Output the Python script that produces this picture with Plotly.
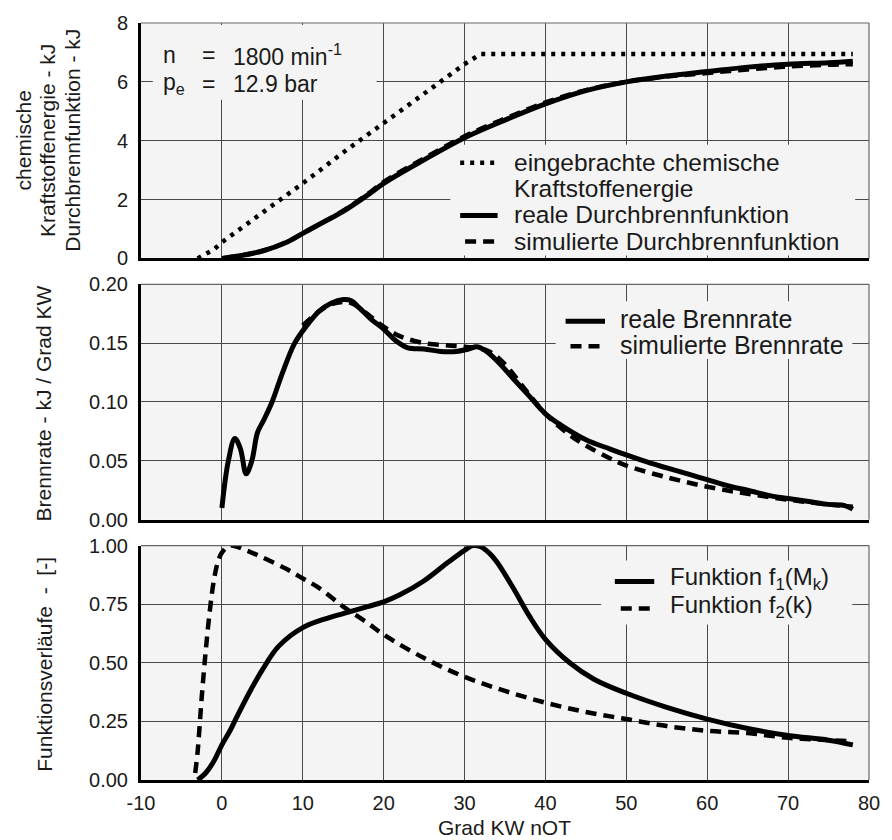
import plotly.graph_objects as go
from plotly.subplots import make_subplots

# ---------------- data ----------------
chem_x = [-3, -1, 0, 2, 5, 10, 15, 20, 25, 30, 32, 35, 45, 55, 65, 78]
chem_y = [0.0, 0.3, 0.55, 0.95, 1.55, 2.55, 3.6, 4.6, 5.6, 6.6, 6.95, 6.95, 6.95, 6.95, 6.95, 6.95]

burn_x = [0, 2, 5, 8, 10, 12, 15, 18, 20, 25, 30, 35, 40, 45, 50, 55, 60, 65, 70, 75, 78]
burn_real = [0.0, 0.08, 0.25, 0.55, 0.85, 1.15, 1.6, 2.15, 2.55, 3.35, 4.1, 4.7, 5.25, 5.7, 6.0, 6.2, 6.35, 6.5, 6.6, 6.65, 6.7]
burn_sim = [0.0, 0.08, 0.25, 0.55, 0.85, 1.15, 1.62, 2.18, 2.6, 3.4, 4.15, 4.75, 5.3, 5.72, 6.0, 6.18, 6.3, 6.42, 6.52, 6.58, 6.6]

rate_x = [0, 0.8, 1.6, 2.3, 3.0, 3.7, 4.4, 5.2, 6.2, 7.5, 9, 10.5, 12, 13.5, 15, 16, 17, 18.5, 20, 21.5, 23, 25, 27, 29, 30.5, 31.5, 32.5, 34,
          36, 38, 40, 42, 45, 48, 50, 53, 55, 58, 60, 63, 65, 68, 70, 73, 75, 77, 78]
rate_real = [0.01, 0.05, 0.069, 0.06, 0.039, 0.05, 0.074, 0.085, 0.1, 0.125, 0.15, 0.165, 0.177, 0.184, 0.187, 0.186, 0.18, 0.17, 0.162, 0.152, 0.146, 0.145, 0.143, 0.143, 0.145, 0.147, 0.144, 0.135,
             0.12, 0.105, 0.09, 0.08, 0.068, 0.06, 0.055, 0.048, 0.044, 0.038, 0.034, 0.028, 0.025, 0.02, 0.018, 0.015, 0.013, 0.012, 0.009]

sim_x = [10, 12, 13.5, 15, 16, 17, 18.5, 20, 22, 25, 28, 30, 33, 35, 37, 40, 43, 45, 48, 50, 55, 60, 65, 70, 75, 78]
rate_sim = [0.165, 0.177, 0.183, 0.185, 0.184, 0.18, 0.172, 0.164, 0.156, 0.15, 0.148, 0.147, 0.143, 0.132, 0.115, 0.09, 0.072, 0.063, 0.052, 0.046, 0.036, 0.028, 0.022, 0.017, 0.013, 0.011]

f1_x = [-3, -2, -1, 0, 1, 2, 3.5, 5, 7, 10, 13, 15, 18, 20, 22, 25, 28, 30, 31, 32, 33, 34, 36, 38, 40, 43, 46, 50, 55, 60, 65, 70, 75, 78]
f1_y = [0.0, 0.03, 0.08, 0.15, 0.21, 0.28, 0.38, 0.47, 0.57, 0.65, 0.69, 0.71, 0.74, 0.76, 0.79, 0.85, 0.93, 0.98, 1.0, 0.995, 0.97, 0.93, 0.82, 0.7, 0.6, 0.5, 0.43, 0.37, 0.31, 0.26, 0.22, 0.19, 0.17, 0.15]

f2_x = [-3.3, -3, -2.5, -2, -1.5, -1, -0.5, 0, 1, 3, 5, 8, 10, 12, 15, 18, 20, 25, 30, 35, 40, 45, 50, 55, 60, 65, 70, 75, 78]
f2_y = [0.03, 0.12, 0.35, 0.55, 0.72, 0.85, 0.93, 0.97, 1.0, 0.98, 0.95, 0.9, 0.86, 0.82, 0.74, 0.67, 0.62, 0.52, 0.44, 0.38, 0.33, 0.29, 0.26, 0.23, 0.21, 0.2, 0.18, 0.17, 0.165]

x_ticks = [-10, 0, 10, 20, 30, 40, 50, 60, 70, 80]
x_tick_labels = ["-10", "0", "10", "20", "30", "40", "50", "60", "70", "80"]
y1_ticks = [0, 2, 4, 6, 8]
y2_ticks = [0.0, 0.05, 0.10, 0.15, 0.20]
y3_ticks = [0.0, 0.25, 0.50, 0.75, 1.00]

# ---------------- styling ----------------
FONT = "Liberation Sans, Arial, Helvetica, sans-serif"
TXT = "#1a1a1a"
BG = "#f4f4f4"
GRID = "#4a4a4a"
DOT = "4px,6px"
DASH = "11px,7px"
SOLID_W = 5
DASH_W = 4.5

W, H = 892, 840
L, R, T, B = 141, 12, 21, 60
pw, ph = W - L - R, H - T - B
XR = [-10, 80]

def px(p):
    return (p - L) / pw

def py(p):
    return (H - B - p) / ph

# panel pixel extents (top, bottom)
panels = [(21, 257), (283, 519), (545, 780)]
yranges = [[0, 8], [0, 0.2], [0, 1.0]]

fig = make_subplots(rows=3, cols=1, vertical_spacing=0.0)

styles = {
    "dot": dict(color="black", width=DASH_W, dash=DOT),
    "solid": dict(color="black", width=SOLID_W),
    "dash": dict(color="black", width=DASH_W, dash=DASH),
}

fig.add_trace(go.Scatter(x=chem_x, y=chem_y, mode="lines", name="eingebrachte chemische Kraftstoffenergie",
                         line=styles["dot"], showlegend=False), row=1, col=1)
fig.add_trace(go.Scatter(x=burn_x, y=burn_real, mode="lines", name="reale Durchbrennfunktion",
                         line=dict(styles["solid"], shape="spline"), showlegend=False), row=1, col=1)
fig.add_trace(go.Scatter(x=burn_x, y=burn_sim, mode="lines", name="simulierte Durchbrennfunktion",
                         line=dict(styles["dash"], shape="spline"), showlegend=False), row=1, col=1)

fig.add_trace(go.Scatter(x=rate_x, y=rate_real, mode="lines", name="reale Brennrate",
                         line=dict(styles["solid"], shape="spline"), showlegend=False), row=2, col=1)
fig.add_trace(go.Scatter(x=sim_x, y=rate_sim, mode="lines", name="simulierte Brennrate",
                         line=dict(styles["dash"], shape="spline"), showlegend=False), row=2, col=1)

fig.add_trace(go.Scatter(x=f1_x, y=f1_y, mode="lines", name="Funktion f1(Mk)",
                         line=dict(styles["solid"], shape="spline"), showlegend=False), row=3, col=1)
fig.add_trace(go.Scatter(x=f2_x, y=f2_y, mode="lines", name="Funktion f2(k)",
                         line=dict(styles["dash"], shape="spline"), showlegend=False), row=3, col=1)

yticks = [y1_ticks, y2_ticks, y3_ticks]
yfmt = ["d", ".2f", ".2f"]

for i in range(3):
    xa = "xaxis" if i == 0 else f"xaxis{i+1}"
    ya = "yaxis" if i == 0 else f"yaxis{i+1}"
    top, bot = panels[i]
    fig.layout[ya].update(domain=[py(bot), py(top)], range=yranges[i], tickvals=yticks[i], tickformat=yfmt[i],
                          showgrid=True, gridcolor=GRID, gridwidth=1, zeroline=False,
                          showline=True, linecolor="black", linewidth=3,
                          ticks="outside", ticklen=6, tickcolor="rgba(0,0,0,0)",
                          tickfont=dict(family=FONT, size=20, color=TXT))
    fig.layout[xa].update(range=XR, tickvals=x_ticks, ticktext=x_tick_labels,
                          showgrid=True, gridcolor=GRID, gridwidth=1,
                          zeroline=False, showline=True, linecolor="black", linewidth=3,
                          ticks="outside", ticklen=3, tickcolor="rgba(0,0,0,0)",
                          showticklabels=(i == 2), tickfont=dict(family=FONT, size=20, color=TXT))

fig.update_layout(
    width=W, height=H, margin=dict(l=L, r=R, t=T, b=B),
    paper_bgcolor="white", plot_bgcolor=BG, showlegend=False,
    font=dict(family=FONT, color=TXT),
)

def ax(i):
    return ("x" if i == 0 else f"x{i+1}"), ("y" if i == 0 else f"y{i+1}")

def to_data(i, xp, yp):
    top, bot = panels[i]
    lo, hi = yranges[i]
    xd = XR[0] + (xp - L) / pw * (XR[1] - XR[0])
    yd = lo + (bot - yp) / (bot - top) * (hi - lo)
    return xd, yd

def box(i, x0p, x1p, y0p, y1p):
    """Background patch (hides gridlines, under traces) in subplot i, given pixel bounds."""
    xr, yr = ax(i)
    xa0, ya0 = to_data(i, x0p, y1p)
    xa1, ya1 = to_data(i, x1p, y0p)
    fig.add_shape(type="rect", xref=xr, yref=yr, layer="between",
                  x0=xa0, x1=xa1, y0=ya0, y1=ya1,
                  fillcolor=BG, line=dict(width=0))

# thin top/right frame
for i in range(3):
    xr, yr = ax(i)
    fig.add_shape(type="line", xref=f"{xr} domain", yref=f"{yr} domain", x0=0, x1=1, y0=1, y1=1,
                  line=dict(color="#666666", width=1.2))
    fig.add_shape(type="line", xref=f"{xr} domain", yref=f"{yr} domain", x0=1, x1=1, y0=0, y1=1,
                  line=dict(color="#666666", width=1.2))

def text(xp, yp, s, size, anchor="left", angle=0):
    fig.add_annotation(xref="paper", yref="paper", x=px(xp), y=py(yp), text=s, showarrow=False,
                       xanchor=anchor, yanchor="middle", textangle=angle,
                       font=dict(family=FONT, size=size, color=TXT))

def sample(x0p, x1p, yp, style):
    fig.add_shape(type="line", xref="paper", yref="paper", x0=px(x0p), x1=px(x1p), y0=py(yp), y1=py(yp),
                  line=styles[style])

LEG = 24.5
# top legend
box(0, 455, 866, 143, 254)
sample(465, 502, 161, "dot")
text(518, 161, "eingebrachte chemische", LEG)
text(518, 187, "Kraftstoffenergie", LEG)
sample(465, 503, 214, "solid")
text(518, 213.5, "reale Durchbrennfunktion", LEG)
sample(470, 503, 240, "dash")
text(518, 240, "simulierte Durchbrennfunktion", LEG)

# middle legend
box(1, 562, 863, 300, 358)
sample(572, 612, 320, "solid")
text(625, 318, "reale Brennrate", 25)
sample(577, 612, 345, "dash")
text(625, 344, "simulierte Brennrate", 25)

# bottom legend
box(2, 608, 863, 560, 624)
sample(622, 662, 581, "solid")
text(676, 578, "Funktion f<sub>1</sub>(M<sub>k</sub>)", 24)
sample(628, 661, 608, "dash")
text(676, 606, "Funktion f<sub>2</sub>(k)", 24)

# operating point
box(0, 153, 380, 23, 98)
text(161, 53, "n", 23)
text(201, 53, "=", 23)
text(232, 53, "1800 min<sup>-1</sup>", 23)
text(161, 82, "p<sub>e</sub>", 23)
text(201, 82, "=", 23)
text(232, 82, "12.9 bar", 23)

# axis titles
text(22, 139, "chemische", 21, anchor="center", angle=-90)
text(46, 139, "Kraftstoffenergie - kJ", 21, anchor="center", angle=-90)
text(72, 139, "Durchbrennfunktion - kJ", 21, anchor="center", angle=-90)
text(43, 402, "Brennrate - kJ / Grad KW", 21, anchor="center", angle=-90)
text(43, 664, "Funktionsverläufe\u00a0\u00a0-\u00a0\u00a0[-]", 21, anchor="center", angle=-90)
text(510, 828, "Grad KW nOT", 21, anchor="center")

fig.write_html("out.html")
